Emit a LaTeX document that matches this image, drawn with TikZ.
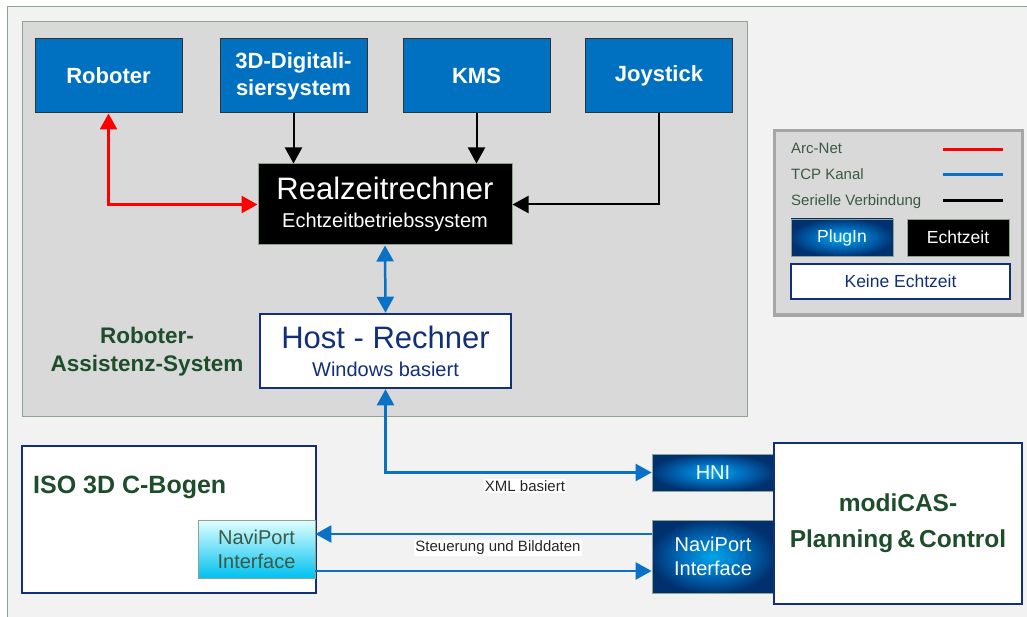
\documentclass[tikz,border=0pt]{standalone}
\usepackage{fontspec}
\setmainfont{Liberation Sans}
\usetikzlibrary{arrows.meta}

\definecolor{boxblue}{HTML}{0070C0}
\definecolor{navy}{HTML}{12307A}
\definecolor{darknavy}{HTML}{00306E}
\definecolor{glowblue}{HTML}{00A6EA}
\definecolor{panelgray}{HTML}{D9D9D9}
\definecolor{outergray}{HTML}{F2F2F2}
\definecolor{framegreen}{HTML}{8FA38F}
\definecolor{textgreen}{HTML}{1E4D2B}
\definecolor{legendgreen}{HTML}{3B5A45}
\definecolor{tcpblue}{HTML}{0A72C6}

\pgfdeclareradialshading{glow}{\pgfpoint{0bp}{0bp}}{%
    color(0bp)=(glowblue); color(12bp)=(boxblue);
    color(26bp)=(darknavy); color(50bp)=(darknavy)}

\tikzset{
    >={Triangle[length=16pt, width=17pt]},
    device/.style={draw=black!80, line width=1pt, fill=boxblue, text=white,
        minimum width=147pt, minimum height=74pt, align=center,
        font=\fontsize{22}{27}\bfseries\selectfont},
    computer/.style={minimum width=254pt, align=center,
        font=\fontsize{20}{28}\selectfont},
    plugin/.style={draw=framegreen, line width=0.8pt, shading=glow,
        text=white, align=center},
    whitebox/.style={draw=navy, line width=2.5pt, fill=white},
    serial/.style={draw=black, line width=2pt},
    arcnet/.style={draw=red, line width=2.5pt},
    tcp/.style={draw=tcpblue, line width=2.5pt},
    caption/.style={fill=white, inner sep=1pt, font=\fontsize{15}{15}\selectfont, text=black!85},
    legendtext/.style={anchor=base west, inner sep=0pt, text=legendgreen,
        font=\fontsize{15}{15}\selectfont},
}

\begin{document}
\begin{tikzpicture}[x=1pt, y=-1pt]
    \useasboundingbox[fill=white] (0, 0) rectangle (1027, 617);

    % Hintergrund
    \fill[outergray] (7, 7) rectangle (1027, 617);
    \draw[framegreen, line width=1pt] (7, 617) -- (7, 7) -- (1027, 7);
    \draw[framegreen, line width=1pt, fill=panelgray] (22, 22) rectangle (747, 416);

    % Roboter-Assistenz-System
    \node[device] (roboter) at (108.5, 76) {Roboter};
    \node[device] (digi) at (293.5, 76) {3D-Digitali-\\siersystem};
    \node[device] (kms) at (476.5, 76) {KMS};
    \node[device] (joystick) at (659, 76) {Joystick};

    \node[computer, draw=framegreen, line width=1pt, fill=black, text=white,
        minimum height=81pt] (realzeit) at (385, 204.5)
        {{\fontsize{31}{31}\selectfont Realzeitrechner}\\Echtzeitbetriebssystem};
    \node[computer, whitebox, text=navy, minimum width=251pt, minimum height=74pt]
        (host) at (385.5, 351)
        {{\fontsize{31}{31}\selectfont Host - Rechner}\\Windows basiert};

    \node[align=center, text=textgreen, font=\fontsize{22.5}{28}\bfseries\selectfont]
        (ras) at (147, 352) {Roboter-\\Assistenz-System};

    \draw[arcnet, <->] (roboter.south) |- (realzeit.west);
    \draw[serial, ->] (digi.south) -- (digi.south |- realzeit.north);
    \draw[serial, ->] (kms.south) -- (kms.south |- realzeit.north);
    \draw[serial, ->] (joystick.south) |- (realzeit.east);
    \draw[tcp, <->] (realzeit.south) -- (host.north);

    % Legende
    \draw[black!35, line width=3pt, fill=panelgray] (774, 131) rectangle (1022, 315);
    \node[legendtext] (lgarc) at (791, 154) {Arc-Net};
    \node[legendtext] (lgtcp) at (791, 180) {TCP Kanal};
    \node[legendtext] (lgser) at (791, 206) {Serielle Verbindung};
    \draw[arcnet, line width=3pt] (943, 150) -- (1003, 150);
    \draw[tcp, line width=3pt] (943, 175) -- (1003, 175);
    \draw[serial, line width=3pt] (943, 201) -- (1003, 201);
    \node[plugin, minimum width=102pt, minimum height=37pt,
        font=\fontsize{17.5}{17.5}\selectfont] (lgplugin) at (842, 237.5) {PlugIn};
    \node[draw=framegreen, line width=0.8pt, fill=black, text=white,
        minimum width=102pt, minimum height=37pt,
        font=\fontsize{17.5}{17.5}\selectfont] (lgecht) at (958, 237.5) {Echtzeit};
    \node[whitebox, text=navy, minimum width=219pt, minimum height=35pt,
        font=\fontsize{17.5}{17.5}\selectfont] (lgkeine) at (900.5, 281.5) {Keine Echtzeit};

    % C-Bogen
    \draw[whitebox] (22, 446) rectangle (316, 593);
    \node[anchor=base west, inner sep=0pt, text=textgreen,
        font=\fontsize{25}{25}\bfseries\selectfont] (cbogen) at (33, 493) {ISO 3D C-Bogen};
    \node[draw=framegreen, line width=0.8pt, shading=axis, top color=cyan!12,
        bottom color=glowblue!70!cyan, text=legendgreen, align=center,
        minimum width=117pt, minimum height=58pt,
        font=\fontsize{20}{24}\selectfont] (navileft) at (256.5, 549) {NaviPort\\Interface};

    % modiCAS
    \node[plugin, minimum width=122pt, minimum height=37pt,
        font=\fontsize{20}{20}\selectfont] (hni) at (713, 472.5) {HNI};
    \node[plugin, minimum width=122pt, minimum height=73pt,
        font=\fontsize{20}{24}\selectfont] (naviright) at (713, 556.5) {NaviPort\\Interface};
    \node[whitebox, minimum width=248pt, minimum height=161pt, align=center,
        text=textgreen, font=\fontsize{24.5}{36}\bfseries\selectfont]
        (modicas) at (898, 523.5) {modiCAS-\\Planning\,\&\,Control};

    \draw[tcp, <->] (host.south) |- (hni.west);
    \coordinate (steuer) at ([yshift=15pt]navileft.east);
    \coordinate (bild) at ([yshift=-22pt]navileft.east);
    \draw[tcp, ->] (steuer -| naviright.west) -- (steuer);
    \draw[tcp, ->] (bild) -- (bild -| naviright.west);

    \node[caption] (xml) at (525, 486) {XML basiert};
    \node[caption] (sbd) at (498, 548) {Steuerung und Bilddaten};
\end{tikzpicture}
\end{document}
